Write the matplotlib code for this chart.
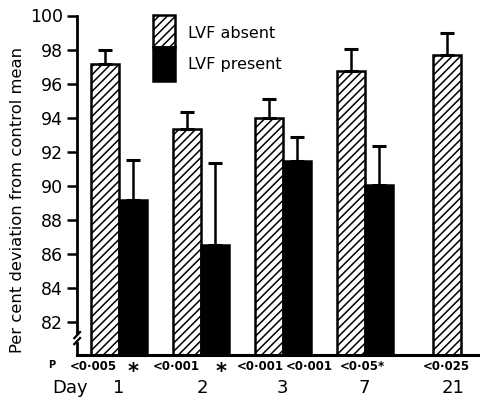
import matplotlib
matplotlib.use("Agg")
import matplotlib.pyplot as plt
import matplotlib.transforms as mtransforms
import numpy as np
from matplotlib.patches import Rectangle

# ---- data ----
days = ['1', '2', '3', '7', '21']
absent_mean = [97.15, 93.35, 94.0, 96.75, 97.7]
absent_err = [0.85, 1.0, 1.1, 1.3, 1.25]
present_mean = [89.15, 86.5, 91.45, 90.05]
present_err = [2.35, 4.8, 1.4, 2.25]
p_labels = ['<0·005', '*', '<0·001', '*', '<0·001', '<0·001', '<0·05*', '<0·025']
p_label_x = [0.683, 1.17, 1.695, 2.244, 2.72, 3.317, 3.963, 4.988]
yticks = [82, 84, 86, 88, 90, 92, 94, 96, 98, 100]

# ---- layout ----
group_x = np.array([1, 2, 3, 4, 5.165])
day_label_x = [1.0, 2.012, 2.988, 3.988, 5.073]
w = 0.34
plt.rcParams['hatch.linewidth'] = 1.1
plt.rcParams['font.family'] = ['DejaVu Sans']

fig = plt.figure(figsize=(4.8, 4.01), dpi=100)
ax = fig.add_axes([77/480, 1-354.5/401, 403/480, (354.5-15.5)/401])
ax.set_xlim(0.488, 5.402)
ax.set_ylim(80.06, 100)

ax.bar(group_x - w/2, absent_mean, width=w, color='white',
       edgecolor='black', hatch='////', linewidth=1.8, zorder=2)
ax.bar(group_x[:4] + w/2, present_mean, width=w, color='black',
       edgecolor='black', linewidth=1.8, zorder=2)
ax.errorbar(group_x - w/2, absent_mean, yerr=[np.zeros(5), absent_err],
            fmt='none', ecolor='black', elinewidth=1.8, capsize=4.7,
            capthick=2.2, zorder=3)
ax.errorbar(group_x[:4] + w/2, present_mean, yerr=[np.zeros(4), present_err],
            fmt='none', ecolor='black', elinewidth=1.8, capsize=4.7,
            capthick=2.2, zorder=3)

for s in ['top', 'right', 'left']:
    ax.spines[s].set_visible(False)
ax.spines['bottom'].set_linewidth(2.2)
ax.set_xticks([])
ax.set_yticks(yticks)
ax.set_yticklabels([str(t) for t in yticks], fontsize=12.5)
ax.tick_params(axis='y', length=7, width=1.8, pad=3, direction='out')

# left axis line with break
ax.plot([0.488, 0.488], [81.3, 100], color='black', lw=2.0, clip_on=False, zorder=4)
ax.plot([0.488, 0.488], [80.06, 80.75], color='black', lw=2.0, clip_on=False, zorder=4)
for yb in [80.85, 81.2]:
    ax.plot([0.455, 0.525], [yb - 0.18, yb + 0.18], color='black', lw=1.6,
            clip_on=False, zorder=4)

ax.set_ylabel('Per cent deviation from control mean', fontsize=11.8)
ax.yaxis.set_label_coords(-0.128, 0.455)

# legend drawn manually
lx0, lx1 = 152.7/480, 175/480
fig.patches.append(Rectangle((lx0, 1-47/401), lx1-lx0, 32/401, transform=fig.transFigure,
                             facecolor='white', edgecolor='black', hatch='////', lw=1.8))
fig.patches.append(Rectangle((lx0, 1-81/401), lx1-lx0, 34/401, transform=fig.transFigure,
                             facecolor='black', edgecolor='black', lw=1.8))
fig.text(188/480, 1-33/401, 'LVF absent', fontsize=11.5, va='center', ha='left')
fig.text(188/480, 1-64/401, 'LVF present', fontsize=11.5, va='center', ha='left')

# P-values and day labels
bt = mtransforms.blended_transform_factory(ax.transData, fig.transFigure)
fig.text(52/480, 1-365/401, 'P', fontsize=7, fontweight='bold', ha='center', va='center')
for lab, xx in zip(p_labels, p_label_x):
    if lab == '*':
        ax.text(xx, 1-372/401, lab, transform=bt, fontsize=15, fontweight='bold',
                ha='center', va='center')
    else:
        ax.text(xx, 1-366/401, lab, transform=bt, fontsize=8.5, fontweight='bold',
                ha='center', va='center')
fig.text(70/480, 1-388/401, 'Day', fontsize=13, ha='center', va='center')
for d, xx in zip(days, day_label_x):
    ax.text(xx, 1-388/401, d, transform=bt, fontsize=13, ha='center', va='center')

fig.savefig('out.png', dpi=100)
